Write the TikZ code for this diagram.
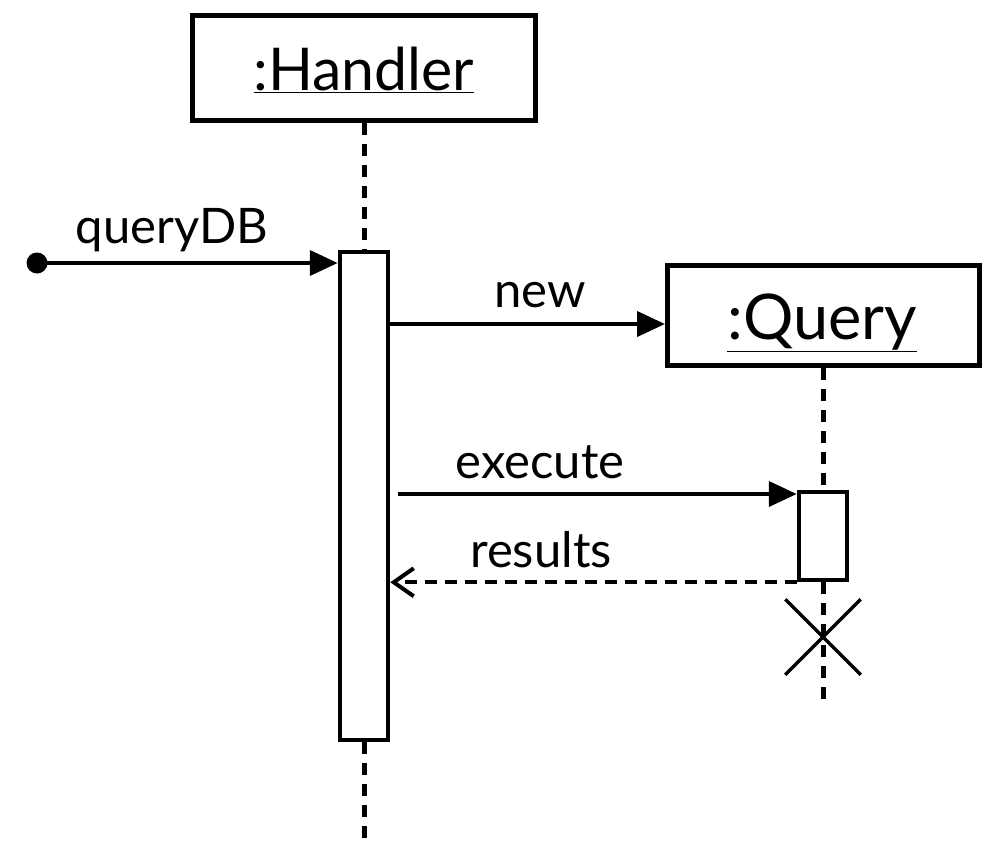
\documentclass[tikz,border=0pt]{standalone}
\usepackage{fontspec}
\setmainfont{Lato}
\usetikzlibrary{arrows.meta,shapes.misc}
\begin{document}
\begin{tikzpicture}[x=1pt,y=-1pt,
  objbox/.style={draw,line width=5pt,minimum width=#1,inner sep=0pt},
  objtxt/.style={anchor=base,inner sep=0pt,font=\fontsize{59}{64}\selectfont},
  actbox/.style={draw,line width=4.5pt,fill=white,inner sep=0pt,minimum width=48pt},
  lifeline/.style={line width=5pt,dash pattern=on 12pt off 9pt},
  msg/.style={line width=4pt,-{Triangle[length=28pt,width=25pt]}},
  reply/.style={line width=4pt,dash pattern=on 12pt off 8pt,-{Straight Barb[length=20pt,width=28pt,line width=4pt]}},
  lbl/.style={anchor=base,inner sep=0pt,font=\fontsize{49}{54}\selectfont}]
\useasboundingbox (0,0) rectangle (991,844);
% objects
\node[objbox=343pt,minimum height=105pt] (handler) at (364,68) {};
\node[objtxt] (htxt) at (364,90) {\underline{:Handler}};
\node[objbox=312pt,minimum height=100pt] (query) at (823.5,315.5) {};
\node[objtxt,font=\fontsize{63}{68}\selectfont] (qtxt) at (822,339) {\underline{:Query}};
% activations
\node[actbox,minimum height=488pt] (hact) at (364,496) {};
\node[actbox,minimum height=88pt] (qact) at (823,536) {};
% lifelines
\coordinate (hend) at (364,844);
\coordinate (qend) at (823,703);
\draw[lifeline] (hact.north |- handler.south) -- (hact.north);
\draw[lifeline] (hact.south) -- (hend);
\draw[lifeline] (qact.north |- query.south) -- (qact.north);
\draw[lifeline] (qact.south) -- (qend);
% destruction
\node[cross out,draw,line width=3.5pt,minimum size=72pt,inner sep=0pt] (kill) at (823,637) {};
% messages
\node[circle,fill,inner sep=0pt,minimum size=21pt] (start) at (37,263) {};
\draw[msg] (start.center) -- (hact.west |- start.center);
\node[lbl] (l1) at (172,243) {queryDB};
\coordinate (n0) at (390,324);
\draw[msg] (n0 -| hact.east) -- (n0 -| query.west);
\node[lbl] (l2) at (540,307) {new};
\coordinate (e0) at (398,494);
\draw[msg] (e0) -- (e0 -| qact.west);
\node[lbl] (l3) at (540,478) {execute};
\draw[reply] (qact.south west) -- (qact.south west -| hact.east);
\node[lbl] (l4) at (541,567) {results};
\end{tikzpicture}
\end{document}
